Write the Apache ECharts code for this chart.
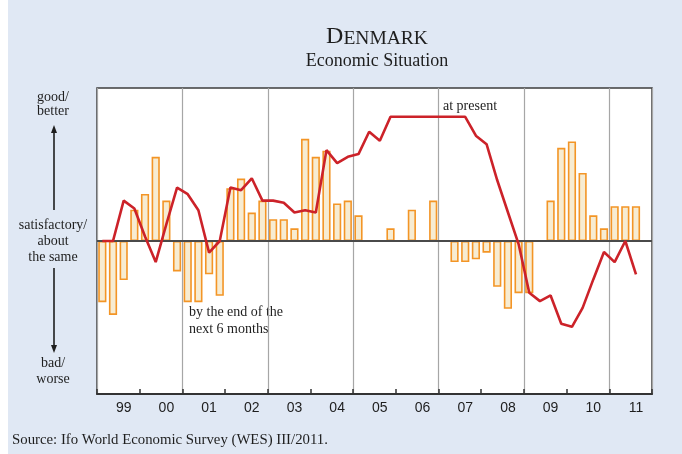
<!DOCTYPE html>
<html>
<head>
<meta charset="utf-8">
<script src="https://cdn.jsdelivr.net/npm/echarts@6/dist/echarts.min.js"></script>
<style>
  html, body { margin: 0; padding: 0; background: #fff; }
  #chart { width: 682px; height: 454px; }
</style>
</head>
<body>
<div id="chart"></div>
<script>
// quarters 1999 Q1 .. 2011 Q4 (last one empty)
const years = ["1999", "2000", "2001", "2002", "2003", "2004", "2005", "2006", "2007", "2008", "2009", "2010", "2011"];
const quarters = [];
years.forEach(y => { for (let q = 1; q <= 4; q++) quarters.push(y + " Q" + q); });

// expectations: by the end of the next 6 months (bars)
const nextSixMonths = [
  -40, -48.3, -25.5, 20.5,
  30.8, 55, 26.4, -19.9,
  -40, -40, -21.8, -35.8,
  34.5, 40.8, 18.6, 26.4,
  14.2, 14.2, 8.3, 66.8,
  55, 59, 24.5, 26.4,
  16.8, 0, 0, 8.3,
  0, 20.5, 0, 26.4,
  0, -13.8, -13.8, -12,
  -7.6, -29.9, -44.3, -34.1,
  -34.1, 0, 26.4, 60.9,
  65.1, 44.5, 16.8, 8.3,
  22.7, 22.7, 22.7, null
];

// assessment: at present (line)
const atPresent = [
  0, 0, 26.4, 21.2,
  3, -13.8, 11, 34.9,
  30.6, 20.1, -7.6, 0,
  34.9, 33.2, 41, 26.4,
  26.4, 25, 18.6, 20.1,
  18.6, 59.4, 50.9, 55,
  56.8, 71.4, 65.5, 81.2,
  81.2, 81.2, 81.2, 81.2,
  81.2, 81.2, 81.2, 68.8,
  63.3, 39.7, 18.8, -2,
  -33.8, -39.3, -35.6, -54.1,
  -56.1, -43.7, -25.1, -7.2,
  -13.8, 0, -21.8, null
];

const serif = "'Liberation Serif', 'DejaVu Serif', serif";
const ink = "#1e1e1e";

const chart = echarts.init(document.getElementById("chart"));

function arrow(x, yFrom, yTo) {
  const dir = yTo < yFrom ? 1 : -1;
  return [
    { type: "line", shape: { x1: x, y1: yFrom, x2: x, y2: yTo + dir * 6 }, style: { stroke: ink, lineWidth: 1.6 } },
    { type: "polygon", shape: { points: [[x, yTo], [x - 3, yTo + dir * 8], [x + 3, yTo + dir * 8]] }, style: { fill: ink } }
  ];
}

const option = {
  animation: false,
  backgroundColor: "#e0e8f4",
  grid: {
    left: 97, right: 30, top: 88, bottom: 60,
    show: true, backgroundColor: "#ffffff", borderColor: "#3c3c3c", borderWidth: 1.5
  },
  xAxis: {
    type: "category",
    data: quarters,
    boundaryGap: true,
    axisLine: { onZero: false, lineStyle: { color: "#333", width: 2 } },
    axisTick: { show: true, inside: true, length: 5, interval: i => i % 4 === 0, lineStyle: { color: "#333", width: 1.5 } },
    axisLabel: {
      interval: i => i % 4 === 2,
      formatter: v => v.slice(2, 4),
      margin: 7,
      fontFamily: "'Liberation Sans', Arial, sans-serif",
      fontSize: 14,
      color: ink
    },
    splitLine: { show: true, interval: i => i % 8 === 0, lineStyle: { color: "#a6a6a6", width: 1.2 } }
  },
  yAxis: {
    type: "value", min: -100, max: 100,
    axisLine: { show: false }, axisTick: { show: false }, axisLabel: { show: false }, splitLine: { show: false }
  },
  series: [
    {
      name: "by the end of the next 6 months",
      type: "bar",
      data: nextSixMonths,
      barWidth: 8.2,
      itemStyle: { color: "#f7ecd2", borderColor: "#f39526", borderWidth: 1.6 }
    },
    {
      name: "at present",
      type: "line",
      data: atPresent,
      symbol: "none",
      z: 5,
      lineStyle: { color: "#cc2229", width: 2.6 },
      markLine: {
        silent: true, symbol: "none", label: { show: false },
        lineStyle: { color: "#4a4a4a", width: 2, type: "solid" },
        data: [{ yAxis: 0 }]
      }
    }
  ],
  graphic: [
    { type: "rect", shape: { x: 0, y: 0, width: 8, height: 454 }, style: { fill: "#ffffff" } },
    {
      type: "text", x: 377, y: 36,
      style: {
        text: "{a|D}{b|ENMARK}", align: "center", verticalAlign: "middle",
        rich: {
          a: { fontFamily: serif, fontSize: 24, fill: ink, verticalAlign: "bottom", lineHeight: 25 },
          b: { fontFamily: serif, fontSize: 19.5, fill: ink, verticalAlign: "bottom", lineHeight: 25 }
        }
      }
    },
    { type: "text", x: 377, y: 61, style: { text: "Economic Situation", font: "18px " + serif, fill: ink, align: "center", verticalAlign: "middle" } },
    { type: "text", x: 53, y: 104, style: { text: "good/\nbetter", font: "14px " + serif, lineHeight: 14, fill: ink, align: "center", verticalAlign: "middle" } },
    { type: "text", x: 53, y: 241, style: { text: "satisfactory/\nabout\nthe same", font: "14px " + serif, lineHeight: 16, fill: ink, align: "center", verticalAlign: "middle" } },
    { type: "text", x: 53, y: 371, style: { text: "bad/\nworse", font: "14px " + serif, lineHeight: 16, fill: ink, align: "center", verticalAlign: "middle" } },
    ...arrow(54, 210, 125),
    ...arrow(54, 268, 353),
    { type: "text", x: 443, y: 106, style: { text: "at present", font: "14px " + serif, fill: ink, align: "left", verticalAlign: "middle" } },
    { type: "text", x: 189, y: 321, style: { text: "by the end of the\nnext 6 months", font: "14px " + serif, lineHeight: 17, fill: ink, align: "left", verticalAlign: "middle" } },
    { type: "text", x: 12, y: 440, style: { text: "Source: Ifo World Economic Survey (WES) III/2011.", font: "14.8px " + serif, fill: ink, align: "left", verticalAlign: "middle" } }
  ]
};

chart.setOption(option);
window.addEventListener("resize", () => chart.resize());
</script>
</body>
</html>
